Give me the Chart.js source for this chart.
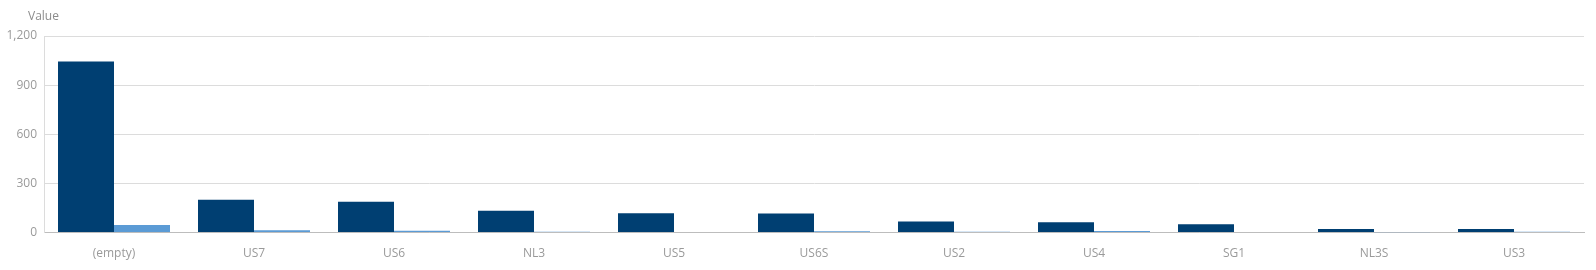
<!DOCTYPE html>
<html>
<head>
<meta charset="utf-8">
<script src="https://cdn.jsdelivr.net/npm/chart.js@4/dist/chart.umd.min.js"></script>
<style>
html,body{margin:0;padding:0;background:#fff;}
#wrap{width:1596px;height:270px;position:relative;}
</style>
</head>
<body>
<div id="wrap"><canvas id="c"></canvas></div>
<script>
const categories = ["(empty)","US7","US6","NL3","US5","US6S","US2","US4","SG1","NL3S","US3"];
const seriesA = [1045,200,188,133,118,116,67,63,51,22,22];
const seriesB = [47,14,12,5,4,8,5,10,3,2,5];
const yTicks = [0,300,600,900,1200];
const axisTitle = "Value";

const titlePlugin = {
  id:'valueTitle',
  afterDraw(chart){
    const ctx = chart.ctx;
    ctx.save();
    ctx.font = '12px "Open Sans", sans-serif';
    ctx.fillStyle = '#8c8c8c';
    ctx.textBaseline = 'middle';
    ctx.textAlign = 'left';
    ctx.fillText(axisTitle, 28, 17);
    ctx.restore();
  }
};

new Chart(document.getElementById('c'), {
  type:'bar',
  data:{
    labels:categories,
    datasets:[
      {label:'A', data:seriesA, backgroundColor:'#003f72', borderWidth:0},
      {label:'B', data:seriesB, backgroundColor:'#5b9bd5', borderWidth:0}
    ]
  },
  options:{
    responsive:true,
    maintainAspectRatio:false,
    animation:false,
    layout:{padding:{top:36,right:12,left:0,bottom:3}},
    plugins:{legend:{display:false},tooltip:{enabled:false},title:{display:false}},
    datasets:{bar:{categoryPercentage:0.8,barPercentage:1.0}},
    scales:{
      x:{
        grid:{display:false},
        border:{display:true,color:'#bdbdbd',width:1},
        ticks:{color:'#9a9a9a',font:{family:'"Open Sans", sans-serif',size:12},padding:6,maxRotation:0,autoSkip:false}
      },
      y:{
        min:0,max:1200,
        afterBuildTicks(scale){ scale.ticks = yTicks.map(v=>({value:v})); },
        afterFit(scale){ scale.width = 44; },
        grid:{color:'#dcdcdc',drawTicks:false,lineWidth:1},
        border:{display:true,color:'#dcdcdc'},
        ticks:{color:'#9a9a9a',font:{family:'"Open Sans", sans-serif',size:12},padding:7,
          callback:(v)=>v.toLocaleString('en-US')}
      }
    }
  },
  plugins:[titlePlugin]
});
</script>
</body>
</html>
